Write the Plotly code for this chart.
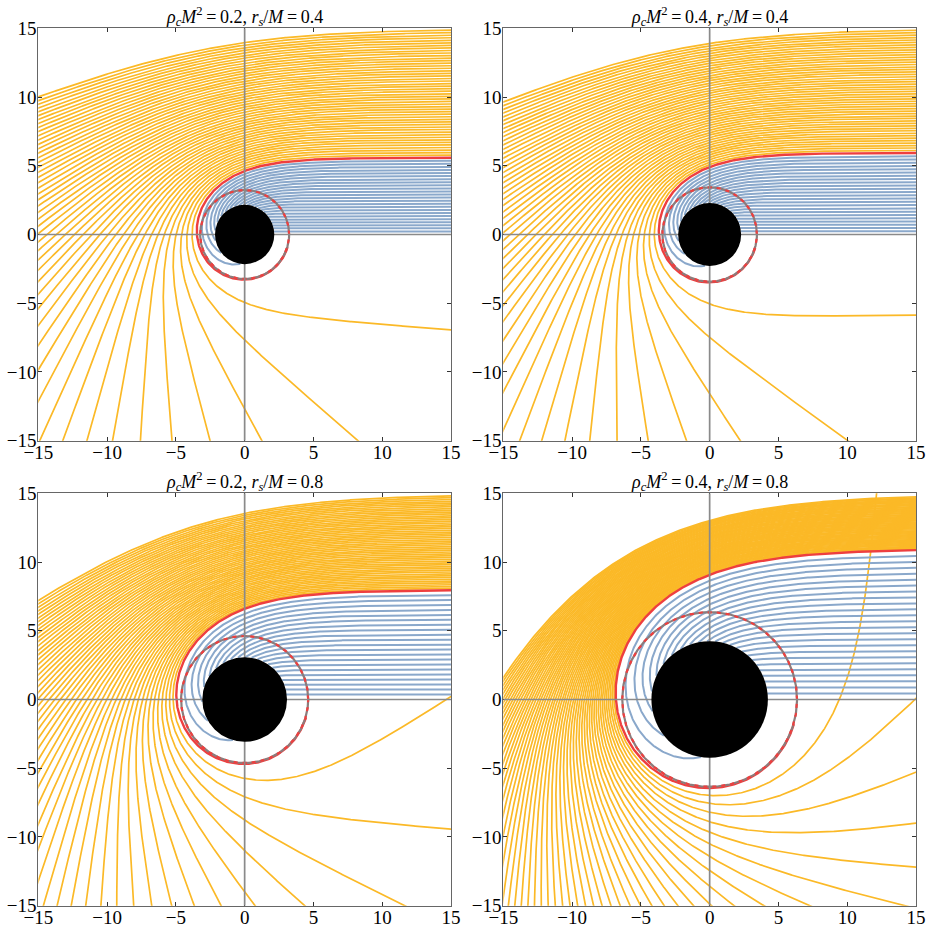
import numpy as np
import plotly.graph_objects as go

# ---- values ----
RHO_LABELS = ["0.2", "0.4", "0.2", "0.4"]          # rho_c M^2 per panel
RS_LABELS = ["0.4", "0.4", "0.8", "0.8"]           # r_s / M per panel
B_CRIT = [5.6, 5.95, 8.0, 11.0]                    # critical impact parameter (red ray)
N_CAPTURED = [25, 25, 22, 25]                      # blue (captured) rays per panel
N_SCATTERED = [50, 50, 52, 55]                     # orange (scattered) rays per panel
B_MAX = 15.0                                       # largest impact parameter drawn
TICK_VALUES = [-15, -10, -5, 0, 5, 10, 15]
AXIS_RANGE = [-15, 15]

ORANGE = "#FBB927"
BLUE = "#8AA8CB"
RED = "#EE3F3F"
GRAY = "#8A8A8A"
FONT = "Liberation Serif"

W, H = 930, 929
def fx(T):
    return T / W
def fy(T):
    return 1 - T / H

X_DOM = [[fx(38.3), fx(451.0)], [fx(503.3), fx(916.0)]]
Y_DOM = [[fy(440.7), fy(28.3)], [fy(905.7), fy(493.3)]]


def integrate(M, bs, u0=1e-3, dpsi=0.004, psi_max=4 * np.pi, r_out=60.0, critical=False):
    """Null geodesics u'' = -u + 3 M u^2 for rays arriving parallel to the x axis."""
    bs = np.asarray(bs, float)
    phi0 = np.arcsin(np.clip(bs * u0, 0, 1))
    u = np.full(bs.shape, u0)
    v = np.cos(phi0) / bs
    n = int(psi_max / dpsi)
    U = np.empty((n + 1, len(bs)))
    U[0] = u
    alive = np.ones(len(bs), bool)
    end = np.full(len(bs), n)
    uh = 1.0 / (2 * M)
    uph = 1.0 / (3 * M)

    def acc(uu):
        return -uu + 3 * M * uu * uu

    for k in range(n):
        k1u, k1v = v, acc(u)
        k2u, k2v = v + 0.5 * dpsi * k1v, acc(u + 0.5 * dpsi * k1u)
        k3u, k3v = v + 0.5 * dpsi * k2v, acc(u + 0.5 * dpsi * k2u)
        k4u, k4v = v + dpsi * k3v, acc(u + dpsi * k3u)
        un = u + dpsi / 6 * (k1u + 2 * k2u + 2 * k3u + k4u)
        vn = v + dpsi / 6 * (k1v + 2 * k2v + 2 * k3v + k4v)
        u = np.where(alive, un, u)
        v = np.where(alive, vn, v)
        U[k + 1] = u
        if critical:
            stop = alive & (np.abs(u / uph - 1) < 0.004) & (k * dpsi > np.pi / 2)
        else:
            stop = alive & ((u >= uh) | ((u < 1.0 / r_out) & (v < 0)))
        end[stop] = k + 1
        alive &= ~stop
        if not alive.any():
            break
    rays = []
    for j in range(len(bs)):
        uu = U[: end[j] + 1, j]
        phi = phi0[j] + dpsi * np.arange(len(uu))
        rays.append((np.cos(phi) / uu, np.sin(phi) / uu))
    return rays


def clip_and_thin(x, y, lim=15.6, ds=0.08):
    inside = (np.abs(x) <= lim) & (np.abs(y) <= lim)
    keep = inside.copy()
    keep[1:] |= inside[:-1]
    keep[:-1] |= inside[1:]
    xs, ys = [], []
    idx = np.flatnonzero(keep)
    if len(idx) == 0:
        return xs, ys
    breaks = np.flatnonzero(np.diff(idx) > 1)
    runs = np.split(idx, breaks + 1)
    for run in runs:
        rx, ry = x[run], y[run]
        seg = np.hypot(np.diff(rx), np.diff(ry))
        s = np.concatenate([[0], np.cumsum(seg)])
        bins = np.floor(s / ds)
        sel = np.concatenate([[True], bins[1:] != bins[:-1]])
        sel[-1] = True
        xs.extend(np.round(rx[sel], 3).tolist() + [None])
        ys.extend(np.round(ry[sel], 3).tolist() + [None])
    return xs, ys


def merge(rays):
    X, Y = [], []
    for rx, ry in rays:
        a, b = clip_and_thin(rx, ry)
        X += a
        Y += b
    return X, Y


fig = go.Figure()
shapes = []
annotations = []

for p in range(4):
    row, col = divmod(p, 2)
    ax = "" if p == 0 else str(p + 1)
    xref, yref = "x" + ax, "y" + ax
    bc = B_CRIT[p]
    M = bc / np.sqrt(27.0)
    r_h, r_ph = 2 * M, 3 * M

    b_cap = bc * np.arange(1, N_CAPTURED[p]) / N_CAPTURED[p]
    b_sca = bc + (B_MAX - bc) * np.arange(1, N_SCATTERED[p] + 1) / N_SCATTERED[p]

    ox, oy = merge(integrate(M, b_sca))
    bx, by = merge(integrate(M, b_cap))
    cx, cy = merge(integrate(M, [bc], critical=True, psi_max=3 * np.pi))

    fig.add_trace(go.Scatter(x=ox, y=oy, mode="lines", line=dict(color=ORANGE, width=1.7),
                             xaxis=xref, yaxis=yref, hoverinfo="skip", showlegend=False))
    fig.add_trace(go.Scatter(x=bx, y=by, mode="lines", line=dict(color=BLUE, width=2.0),
                             xaxis=xref, yaxis=yref, hoverinfo="skip", showlegend=False))
    fig.add_trace(go.Scatter(x=cx, y=cy, mode="lines", line=dict(color=RED, width=2.4),
                             xaxis=xref, yaxis=yref, hoverinfo="skip", showlegend=False))
    th = np.linspace(0, 2 * np.pi, 361)
    fig.add_trace(go.Scatter(x=np.round(r_ph * np.cos(th), 3), y=np.round(r_ph * np.sin(th), 3),
                             mode="lines", line=dict(color="#8C7C7C", width=2.2),
                             xaxis=xref, yaxis=yref, hoverinfo="skip", showlegend=False))
    fig.add_trace(go.Scatter(x=np.round(r_ph * np.cos(th), 3), y=np.round(r_ph * np.sin(th), 3),
                             mode="lines", line=dict(color=RED, width=2.2, dash="4px,5px"),
                             xaxis=xref, yaxis=yref, hoverinfo="skip", showlegend=False))

    shapes.append(dict(type="line", xref=xref, yref=yref, x0=AXIS_RANGE[0], x1=AXIS_RANGE[1],
                       y0=0, y1=0, line=dict(color=GRAY, width=1.7), layer="above"))
    shapes.append(dict(type="line", xref=xref, yref=yref, x0=0, x1=0,
                       y0=AXIS_RANGE[0], y1=AXIS_RANGE[1], line=dict(color=GRAY, width=1.7), layer="above"))
    shapes.append(dict(type="circle", xref=xref, yref=yref, x0=-r_h, x1=r_h, y0=-r_h, y1=r_h,
                       fillcolor="black", line=dict(color="black", width=0), layer="above"))

    axis_common = dict(range=AXIS_RANGE, tickvals=TICK_VALUES, ticks="inside", ticklen=4,
                       tickwidth=1, tickcolor="#333333", showline=True, linecolor="#666666",
                       linewidth=1.2, mirror="ticks", showgrid=False, zeroline=False,
                       tickfont=dict(family=FONT, size=19, color="black"), fixedrange=True,
                       automargin=False)
    fig.layout["xaxis" + ax] = dict(domain=X_DOM[col], anchor=yref, ticklabelstandoff=-6,
                                    **axis_common)
    fig.layout["yaxis" + ax] = dict(domain=Y_DOM[row], anchor=xref, ticklabelstandoff=-3,
                                    **axis_common)

    title = ("<i>ρ</i><sub><i>c</i></sub><i>M</i><sup>2</sup>\u2009=\u2009" + RHO_LABELS[p]
             + ", <i>r</i><sub><i>s</i></sub>/<i>M</i>\u2009=\u2009" + RS_LABELS[p])
    annotations.append(dict(text=title, xref="paper", yref="paper",
                            x=(X_DOM[col][0] + X_DOM[col][1]) / 2, y=Y_DOM[row][1] - 3.0 / H,
                            xanchor="center", yanchor="bottom", showarrow=False,
                            font=dict(family=FONT, size=18, color="black")))

fig.update_layout(width=W, height=H, margin=dict(l=0, r=0, t=0, b=0, autoexpand=False),
                  paper_bgcolor="white", plot_bgcolor="white",
                  shapes=shapes, annotations=annotations, showlegend=False)
fig.write_html("out.html")
